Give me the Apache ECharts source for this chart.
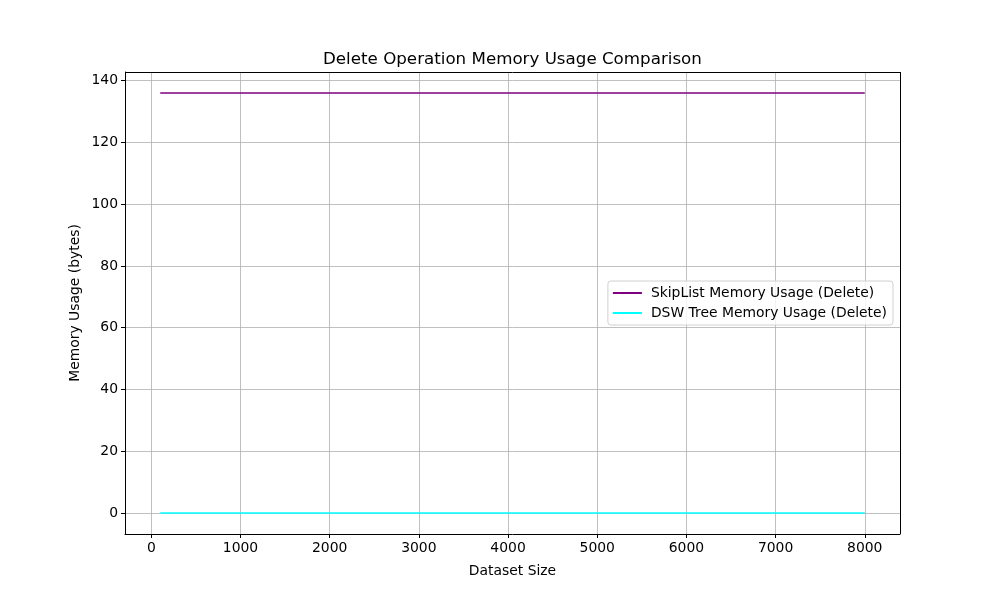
<!DOCTYPE html>
<html>
<head>
<meta charset="utf-8">
<script src="https://cdn.jsdelivr.net/npm/echarts@6/dist/echarts.min.js"></script>
<style>
  html, body { margin: 0; padding: 0; background: #fff; }
  #chart { width: 1000px; height: 600px; }
</style>
</head>
<body>
<div id="chart"></div>
<script>
// dataset sizes on the x axis
const sizes = [100, 1000, 2000, 3000, 4000, 5000, 6000, 7000, 8000];
// memory usage in bytes
const skipListMem = [136, 136, 136, 136, 136, 136, 136, 136, 136];
const dswMem = [0, 0, 0, 0, 0, 0, 0, 0, 0];
const xTicks = [0, 1000, 2000, 3000, 4000, 5000, 6000, 7000, 8000];
const yTicks = [0, 20, 40, 60, 80, 100, 120, 140];

const font = 'DejaVu Sans';
const fs = 13.9;
const gridLine = { show: true, lineStyle: { color: '#b0b0b0', width: 0.8 } };

const chart = echarts.init(document.getElementById('chart'));
chart.setOption({
  animation: false,
  title: {
    text: 'Delete Operation Memory Usage Comparison',
    left: 318,
    top: 46,
    textStyle: { fontFamily: font, fontSize: 16.7, fontWeight: 'normal', color: '#000' }
  },
  legend: {
    orient: 'vertical',
    right: 107,
    top: 281,
    itemWidth: 29,
    itemHeight: 2,
    itemGap: 6,
    icon: 'rect',
    padding: [5, 6, 5, 5],
    borderColor: '#d0d0d0',
    borderWidth: 1,
    borderRadius: 3,
    backgroundColor: 'rgba(255,255,255,0.8)',
    textStyle: { fontFamily: font, fontSize: fs, color: '#000', padding: [0, 0, 0, 4] },
    data: ['SkipList Memory Usage (Delete)', 'DSW Tree Memory Usage (Delete)']
  },
  grid: { left: 125, right: 100, top: 72, bottom: 66 },
  xAxis: {
    type: 'value',
    min: -295,
    max: 8395,
    name: 'Dataset Size',
    nameLocation: 'middle',
    nameGap: 30,
    nameMoveOverlap: false,
    nameTextStyle: { fontFamily: font, fontSize: fs, color: '#000' },
    axisLine: { onZero: false, lineStyle: { color: '#000', width: 1 } },
    axisTick: { customValues: xTicks, length: 4, lineStyle: { color: '#000' } },
    axisLabel: { customValues: xTicks, formatter: v => String(v), fontFamily: font, fontSize: fs, color: '#000', margin: 7 },
    splitLine: gridLine
  },
  yAxis: {
    type: 'value',
    min: -6.8,
    max: 142.8,
    name: 'Memory Usage (bytes)',
    nameLocation: 'middle',
    nameGap: 43,
    nameMoveOverlap: false,
    nameTextStyle: { fontFamily: font, fontSize: fs, color: '#000' },
    axisLine: { show: true, onZero: false, lineStyle: { color: '#000', width: 1 } },
    axisTick: { show: true, customValues: yTicks, length: 4, lineStyle: { color: '#000' } },
    axisLabel: { customValues: yTicks, formatter: v => String(v), fontFamily: font, fontSize: fs, color: '#000', margin: 7 },
    splitLine: gridLine
  },
  series: [
    {
      name: 'SkipList Memory Usage (Delete)',
      type: 'line',
      showSymbol: false,
      color: '#800080',
      lineStyle: { width: 1.5 },
      data: sizes.map((s, i) => [s, skipListMem[i]])
    },
    {
      name: 'DSW Tree Memory Usage (Delete)',
      type: 'line',
      showSymbol: false,
      color: '#00ffff',
      lineStyle: { width: 1.5 },
      data: sizes.map((s, i) => [s, dswMem[i]])
    },
    {
      // top and right frame of the plot area
      type: 'line',
      silent: true,
      data: [],
      markLine: {
        symbol: 'none',
        silent: true,
        label: { show: false },
        lineStyle: { color: '#000', width: 1, type: 'solid' },
        data: [{ xAxis: 8395 }, { yAxis: 142.8 }]
      }
    }
  ]
});
</script>
</body>
</html>
